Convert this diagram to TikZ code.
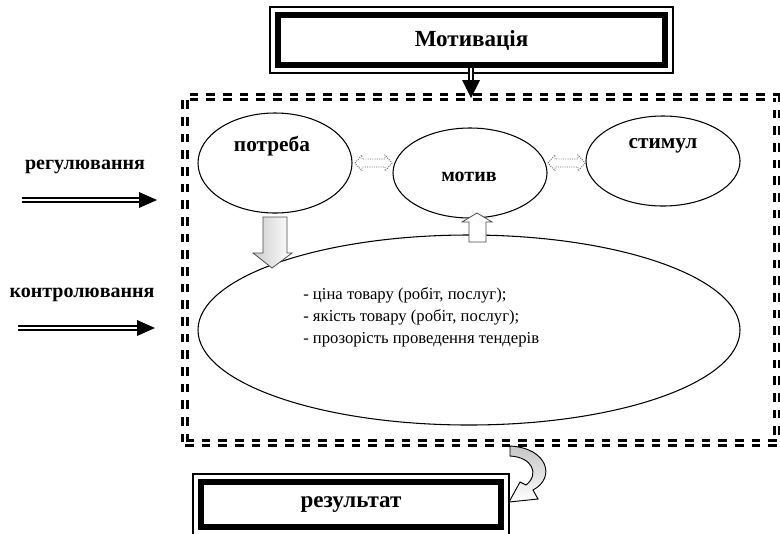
\documentclass[tikz,border=0pt]{standalone}
\usepackage{fontspec}
\setmainfont{Liberation Serif}
\usetikzlibrary{shapes.geometric,calc}
\tikzset{
  ell/.style={draw, ellipse, line width=0.8pt, inner sep=0pt},
  blab/.style={font=\bfseries\fontsize{15}{17}\selectfont, inner sep=0pt},
  elab/.style={font=\bfseries\fontsize{16}{18}\selectfont, inner sep=0pt},
  tlab/.style={font=\bfseries\fontsize{17.3}{19}\selectfont, inner sep=0pt},
  body/.style={font=\fontsize{12.5}{16.5}\selectfont, inner sep=0pt, align=left},
  heavyframe/.style={draw, line width=4.5pt, inner sep=0pt},
  thinframe/.style={line width=0.8pt},
  dline/.style={line width=1.1pt, double, double distance=1.6pt},
  dashframe/.style={draw, line width=2.3pt, double=white, double distance=0.9pt, dash pattern=on 6.5pt off 6pt, inner sep=0pt},
  hollow/.style={draw=black!60, fill=white, line width=0.7pt, densely dotted},
  dbl/.pic={\draw[hollow] (0,0) -- (7,-8) -- (7,-4) -- (30,-4) -- (30,-8) -- (37,0) -- (30,8) -- (30,4) -- (7,4) -- (7,8) -- cycle;}
}
\begin{document}
\begin{tikzpicture}[x=0.75pt,y=-0.75pt]
\useasboundingbox (0,0) rectangle (780,533);

% dashed frame
\node[dashframe, minimum width=444pt, minimum height=259.5pt] (frame) at (481,270) {};

% top box
\node[heavyframe, minimum width=290.25pt, minimum height=37.5pt, tlab] (motbox) at (471.5,40) {Мотивація};
\draw[thinframe] ([xshift=-3.75pt,yshift=3.75pt]motbox.north west) rectangle ([xshift=3.75pt,yshift=-3.75pt]motbox.south east);

% arrow down from top box
\coordinate (mtip) at (471,98);
\draw[dline] (motbox.south -| mtip) -- ($(mtip)+(0,-16)$);
\fill ($(mtip)+(-9,-18)$) -- ($(mtip)+(9,-18)$) -- (mtip) -- cycle;

% ellipses
\node[ell, minimum width=115.5pt, minimum height=75pt] (potreba) at (275,163) {};
\node[ell, minimum width=115.5pt, minimum height=67.5pt] (motiv) at (470,173) {};
\node[ell, minimum width=115.5pt, minimum height=67.5pt] (stimul) at (663,161) {};
\node[ell, minimum width=406.5pt, minimum height=142.5pt] (big) at (469,330) {};

\node[elab] (tpot) at (272,146) {потреба};
\node[blab] (tmot) at (469,177) {мотив};
\node[elab] (tstim) at (663,146) {стимул};

\node[body, anchor=west] (list) at (303,317) {- ціна товару (робіт, послуг);\\- якість товару (робіт, послуг);\\- прозорість проведення тендерів};

% double hollow arrows
\pic at (355,163) {dbl};
\pic at (548,163) {dbl};

% block arrows
\shadedraw[left color=gray!40, right color=white, draw=black!70, line width=0.6pt]
  (263,217) -- (287,217) -- (287,253) -- (292,253) -- (272,268) -- (253,253) -- (263,253) -- cycle;
\filldraw[fill=white, draw=black!70, line width=0.6pt]
  (469,242) -- (469,222) -- (462,222) -- (477,213) -- (492,222) -- (486,222) -- (486,242) -- cycle;

% left labels and arrows
\node[blab] (reg) at (85,167) {регулювання};
\node[blab] (kon) at (82,295) {контролювання};
\coordinate (r1) at (22,200); \coordinate (r2) at (157,200);
\coordinate (k1) at (18,328); \coordinate (k2) at (155,328);
\draw[dline] (r1) -- ($(r2)+(-16,0)$);
\fill ($(r2)+(-18,-8)$) -- (r2) -- ($(r2)+(-18,8)$) -- cycle;
\draw[dline] (k1) -- ($(k2)+(-16,0)$);
\fill ($(k2)+(-18,-8)$) -- (k2) -- ($(k2)+(-18,8)$) -- cycle;

% result box
\node[heavyframe, minimum width=225pt, minimum height=33.75pt, tlab] (res) at (351,504.5) {результат};
\draw[thinframe] ([xshift=-3.75pt,yshift=3.75pt]res.north west) rectangle ([xshift=3.75pt,yshift=-3.75pt]res.south east);

% curved arrow
\shadedraw[top color=gray!45, bottom color=white, draw=black, line width=0.7pt]
  (510,446) .. controls (548,448) and (556,478) .. (533,490) -- (538,499) -- (509,502)
  -- (520,482) -- (526,485) .. controls (540,474) and (532,457) .. (510,456) -- cycle;
\end{tikzpicture}
\end{document}
